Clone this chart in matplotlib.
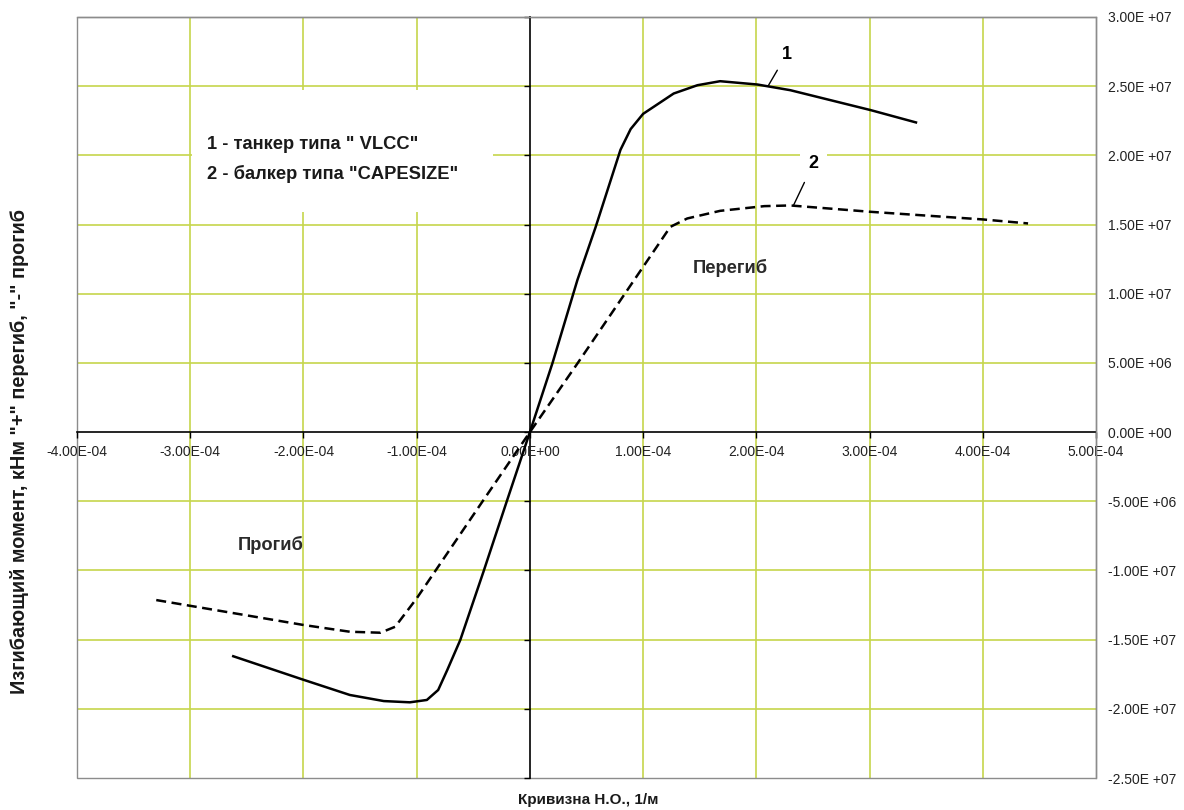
import matplotlib
matplotlib.use('Agg')
import matplotlib.pyplot as plt
from matplotlib.patches import Rectangle

plt.rcParams['font.family'] = ['Liberation Sans', 'DejaVu Sans']

# curvature of the neutral axis, 1/m, and bending moment, kN*m
vlcc_curv = [-2.62e-4, -2.00e-4, -1.59e-4, -1.29e-4, -1.06e-4, -0.91e-4, -0.81e-4,
             -0.73e-4, -0.615e-4, -0.41e-4, -0.20e-4, 0.0, 0.20e-4, 0.42e-4,
             0.58e-4, 0.80e-4, 0.89e-4, 1.00e-4, 1.27e-4, 1.48e-4, 1.68e-4,
             2.01e-4, 2.30e-4, 3.01e-4, 3.41e-4]
vlcc_moment = [-1.62e7, -1.79e7, -1.90e7, -1.944e7, -1.953e7, -1.936e7, -1.864e7,
               -1.72e7, -1.503e7, -1.009e7, -0.49e7, 0.0, 0.50e7, 1.10e7,
               1.48e7, 2.04e7, 2.19e7, 2.30e7, 2.447e7, 2.507e7, 2.536e7,
               2.512e7, 2.471e7, 2.327e7, 2.238e7]

cape_curv = [-3.30e-4, -2.00e-4, -1.59e-4, -1.32e-4, -1.19e-4, -1.00e-4, -0.41e-4,
             0.0, 0.42e-4, 0.74e-4, 0.98e-4, 1.24e-4, 1.39e-4, 1.68e-4,
             2.07e-4, 2.30e-4, 3.01e-4, 4.00e-4, 4.40e-4]
cape_moment = [-1.214e7, -1.394e7, -1.443e7, -1.45e7, -1.407e7, -1.202e7, -0.491e7,
               0.0, 0.496e7, 0.881e7, 1.17e7, 1.483e7, 1.544e7, 1.599e7,
               1.633e7, 1.638e7, 1.592e7, 1.537e7, 1.508e7]

x_ticks = [-4e-4, -3e-4, -2e-4, -1e-4, 0.0, 1e-4, 2e-4, 3e-4, 4e-4, 5e-4]
x_ticklabels = ['-4.00E-04', '-3.00E-04', '-2.00E-04', '-1.00E-04', '0.00E+00',
                '1.00E-04', '2.00E-04', '3.00E-04', '4.00E-04', '5.00E-04']
y_ticks = [-2.5e7, -2e7, -1.5e7, -1e7, -5e6, 0.0, 5e6, 1e7, 1.5e7, 2e7, 2.5e7, 3e7]
y_ticklabels = ['-2.50E +07', '-2.00E +07', '-1.50E +07', '-1.00E +07', '-5.00E +06',
                '0.00E +00', '5.00E +06', '1.00E +07', '1.50E +07', '2.00E +07',
                '2.50E +07', '3.00E +07']

grid_color = '#c6d64c'
frame_color = '#8c8c8c'
text_color = '#1a1a1a'

W, H = 1184, 810
fig = plt.figure(figsize=(W / 100, H / 100), dpi=100)
ax = fig.add_axes([77 / W, 1 - 778 / H, (1096 - 77) / W, (778 - 17) / H])

ax.set_xlim(-4e-4, 5e-4)
ax.set_ylim(-2.5e7, 3e7)

# grid drawn by hand so the zero lines stay black
for xv in x_ticks[1:-1]:
    if xv != 0:
        ax.axvline(xv, color=grid_color, lw=1.2, zorder=0)
for yv in y_ticks[1:-1]:
    if yv != 0:
        ax.axhline(yv, color=grid_color, lw=1.2, zorder=0)

# axes cross at zero, outer frame is grey
ax.spines['left'].set_position(('data', 0))
ax.spines['bottom'].set_position(('data', 0))
for s in ('left', 'bottom'):
    ax.spines[s].set_color('black')
    ax.spines[s].set_linewidth(1.2)
    ax.spines[s].set_zorder(1)
for s in ('top', 'right'):
    ax.spines[s].set_color(frame_color)
    ax.spines[s].set_linewidth(1.0)
ax.add_patch(Rectangle((0, 0), 1, 1, transform=ax.transAxes, fill=False,
                       ec=frame_color, lw=1.0, zorder=0.5, clip_on=False))

ax.set_xticks(x_ticks, x_ticklabels)
ax.set_yticks(y_ticks, y_ticklabels)
ax.tick_params(axis='x', direction='out', length=4, width=1, color='black',
               pad=5, labelsize=10, labelcolor='#222222')
ax.tick_params(axis='y', direction='out', length=4, width=1, color='black',
               left=True, right=False, labelleft=False, labelright=True,
               pad=4.5, labelsize=10, labelcolor='#222222')

ax.plot(vlcc_curv, vlcc_moment, color='black', lw=1.8, zorder=3,
        solid_joinstyle='round')
ax.plot(cape_curv, cape_moment, color='black', lw=1.8, zorder=3,
        linestyle=(0, (4, 2.2)), dash_joinstyle='round')

# legend block with white background over the grid
ax.add_patch(Rectangle((-2.98e-4, 1.59e7), 2.65e-4, 0.88e7, fc='white',
                       ec='none', zorder=1.5))
ax.text(-2.851e-4, 2.081e7, '1 - танкер типа " VLCC"', fontsize=13.2,
        fontweight='bold', va='center', ha='left', color=text_color, zorder=4)
ax.text(-2.851e-4, 1.869e7, '2 - балкер типа "CAPESIZE"', fontsize=13.2,
        fontweight='bold', va='center', ha='left', color=text_color, zorder=4)

ax.text(1.772e-4, 1.185e7, 'Перегиб', fontsize=13.2, fontweight='bold',
        ha='center', va='center', color='#2a2a2a', zorder=4)
ax.text(-2.286e-4, -0.816e7, 'Прогиб', fontsize=13.2, fontweight='bold',
        ha='center', va='center', color='#2a2a2a', zorder=4)

ax.annotate('1', xy=(2.108e-4, 2.507e7), xytext=(2.268e-4, 2.731e7),
            fontsize=13, fontweight='bold', ha='center', va='center',
            bbox=dict(fc='white', ec='none', pad=2),
            arrowprops=dict(arrowstyle='-', lw=1, color='black',
                            shrinkA=4, shrinkB=0), zorder=4)
ax.annotate('2', xy=(2.329e-4, 1.64e7), xytext=(2.506e-4, 1.944e7),
            fontsize=13, fontweight='bold', ha='center', va='center',
            bbox=dict(fc='white', ec='none', pad=6),
            arrowprops=dict(arrowstyle='-', lw=1, color='black',
                            shrinkA=2, shrinkB=0), zorder=4)

fig.text(588 / W, 1 - 800 / H, 'Кривизна Н.О., 1/м', fontsize=11,
         fontweight='bold', ha='center', va='center', color=text_color)
fig.text(20 / W, 1 - 451 / H, 'Изгибающий момент, кНм "+" перегиб, "-" прогиб',
         fontsize=14.3, fontweight='bold', rotation=90, ha='center',
         va='center', color=text_color)

fig.savefig('out.png', dpi=100, facecolor='white')
